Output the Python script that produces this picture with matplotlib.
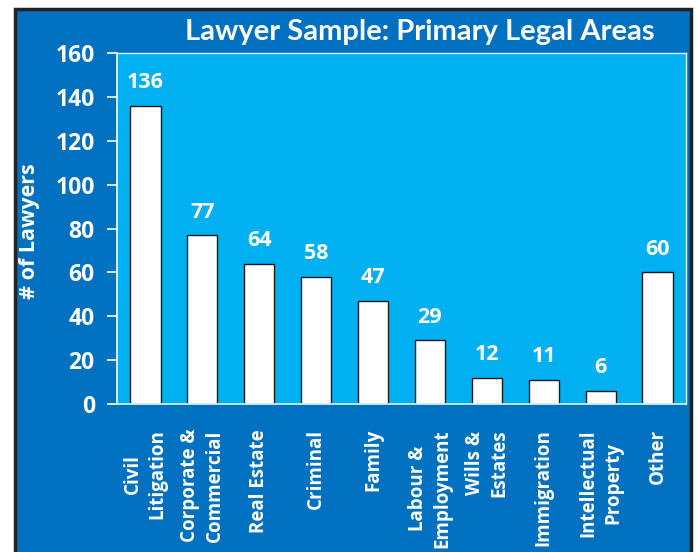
import matplotlib
matplotlib.use("Agg")
import matplotlib.pyplot as plt
from matplotlib.patches import Rectangle

# --- data ---
categories = [
    "Civil\nLitigation", "Corporate &\nCommercial", "Real Estate", "Criminal",
    "Family", "Labour &\nEmployment", "Wills &\nEstates", "Immigration",
    "Intellectual\nProperty", "Other",
]
counts = [136, 77, 64, 58, 47, 29, 12, 11, 6, 60]
y_ticks = [0, 20, 40, 60, 80, 100, 120, 140, 160]

OUTER = "#0070C0"
INNER = "#00B0F0"
LABEL_FONT = ["Open Sans", "DejaVu Sans"]
TITLE_FONT = ["Lato", "DejaVu Sans"]

fig = plt.figure(figsize=(6.96, 5.52), dpi=100, facecolor="white")

# dark-blue panel with a thin dark frame (open at the bottom of the crop)
fig.patches.append(Rectangle((15 / 696, -0.01), 676 / 696, 1 - 9 / 552 + 0.01,
                             transform=fig.transFigure, facecolor=OUTER,
                             edgecolor="#222222", linewidth=2.5, zorder=-5))

ax = fig.add_axes([117 / 696, 1 - 404 / 552, (686 - 117) / 696, (404 - 53) / 552])
ax.set_zorder(1)
ax.set_facecolor(INNER)

x = range(len(counts))
ax.bar(x, counts, width=0.53, color="white", edgecolor="#1a1a1a",
       linewidth=1.0, zorder=2)

for xi, v in zip(x, counts):
    ax.annotate(str(v), (xi, v), xytext=(0, 9), textcoords="offset points",
                ha="center", va="bottom", color="white", fontsize=15.5,
                fontweight="bold", family=LABEL_FONT)

ax.set_xlim(-0.5, len(counts) - 0.5)
ax.set_ylim(0, 160)
ax.set_yticks(y_ticks)
ax.set_yticklabels([str(t) for t in y_ticks], color="white", fontsize=16.5,
                   fontweight="bold", family=LABEL_FONT)
ax.set_xticks(list(x))
ax.set_xticklabels(categories, rotation=90, ha="center", va="top",
                   multialignment="center", color="white", fontsize=13.5,
                   fontweight="bold", family=LABEL_FONT, linespacing=1.3)

ax.tick_params(axis="y", colors="white", length=7, width=1.2, pad=9,
               labelcolor="white")
ax.tick_params(axis="x", length=0, pad=18)

for side in ["top", "right"]:
    ax.spines[side].set_color("#dff4fd")
    ax.spines[side].set_linewidth(1.0)
ax.spines["left"].set_color("white")
ax.spines["left"].set_linewidth(1.2)
ax.spines["bottom"].set_color("#dff4fd")
ax.spines["bottom"].set_linewidth(1.2)

fig.text(29 / 696, 1 - 231 / 552, "# of Lawyers", rotation=90,
         ha="center", va="center", color="white", fontsize=15.5,
         fontweight="bold", family=LABEL_FONT)

fig.text(420 / 696, 1 - 32 / 552, "Lawyer Sample: Primary Legal Areas",
         ha="center", va="center", color="white", fontsize=21,
         fontweight="bold", family=TITLE_FONT)

fig.savefig("out.png", dpi=100, facecolor="white")
